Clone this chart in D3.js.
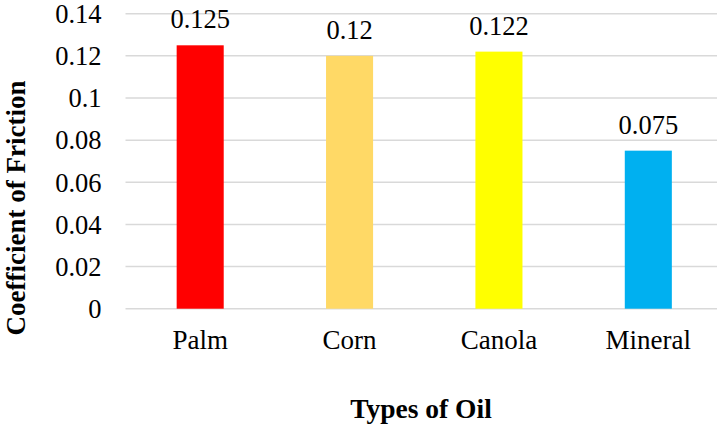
<!DOCTYPE html>
<html>
<head>
<meta charset="utf-8">
<script src="https://cdn.jsdelivr.net/npm/d3@7"></script>
<style>
  body { margin: 0; background: #fff; }
  text { font-family: "Liberation Serif", "Times New Roman", serif; fill: #000; }
</style>
</head>
<body>
<div id="chart"></div>
<script>
// oils and their measured coefficient of friction
var oils = ["Palm", "Corn", "Canola", "Mineral"];
var friction = [0.125, 0.12, 0.122, 0.075];
var barColors = ["#FF0000", "#FFD966", "#FFFF00", "#00B0F0"];
var yTicks = [0, 0.02, 0.04, 0.06, 0.08, 0.1, 0.12, 0.14];

var width = 717, height = 426;
var plot = {left: 125.5, right: 723, top: 13.7, bottom: 308.7};

var svg = d3.select("#chart").append("svg")
    .attr("width", width)
    .attr("height", height);

var x = d3.scaleBand()
    .domain(oils)
    .range([plot.left, plot.right])
    .paddingInner(0.685)
    .paddingOuter(0.3425);

var y = d3.scaleLinear()
    .domain([0, 0.14])
    .range([plot.bottom, plot.top]);

// gridlines
svg.append("g").selectAll("line")
    .data(yTicks)
    .enter().append("line")
    .attr("x1", plot.left)
    .attr("x2", plot.right)
    .attr("y1", function(d) { return y(d); })
    .attr("y2", function(d) { return y(d); })
    .style("stroke", "#d9d9d9")
    .style("stroke-width", 1.5);

// y axis labels
var yAxis = svg.append("g")
    .attr("transform", "translate(" + (plot.left - 24) + ",0)")
    .call(d3.axisLeft(y).tickValues(yTicks).tickSize(0).tickPadding(0)
      .tickFormat(function(d) { return d3.format("")(+d.toFixed(2)); }));
yAxis.select(".domain").remove();
yAxis.selectAll("text")
    .style("font-family", "'Liberation Serif', serif")
    .style("font-size", "26.5px")
    .attr("dy", "0.33em");

// bars
svg.append("g").selectAll("rect")
    .data(friction)
    .enter().append("rect")
    .attr("x", function(d, i) { return x(oils[i]); })
    .attr("width", x.bandwidth())
    .attr("y", function(d) { return y(d); })
    .attr("height", function(d) { return y(0) - y(d); })
    .style("fill", function(d, i) { return barColors[i]; });

// value labels
svg.append("g").selectAll("text")
    .data(friction)
    .enter().append("text")
    .attr("x", function(d, i) { return x(oils[i]) + x.bandwidth() / 2; })
    .attr("y", function(d) { return y(d) - 17; })
    .attr("text-anchor", "middle")
    .style("font-size", "26.5px")
    .text(function(d) { return d; });

// x axis labels
var xAxis = svg.append("g")
    .attr("transform", "translate(0," + plot.bottom + ")")
    .call(d3.axisBottom(x).tickSize(0).tickPadding(0));
xAxis.select(".domain").remove();
xAxis.selectAll("text")
    .style("font-family", "'Liberation Serif', serif")
    .style("font-size", "27px")
    .attr("dy", 0)
    .attr("y", 40);

// axis titles
svg.append("text")
    .attr("x", 421)
    .attr("y", 418)
    .attr("text-anchor", "middle")
    .style("font-size", "27.5px")
    .style("font-weight", "bold")
    .text("Types of Oil");

svg.append("text")
    .attr("transform", "translate(25,208) rotate(-90)")
    .attr("text-anchor", "middle")
    .style("font-size", "27px")
    .style("font-weight", "bold")
    .text("Coefficient of Friction");
</script>
</body>
</html>
